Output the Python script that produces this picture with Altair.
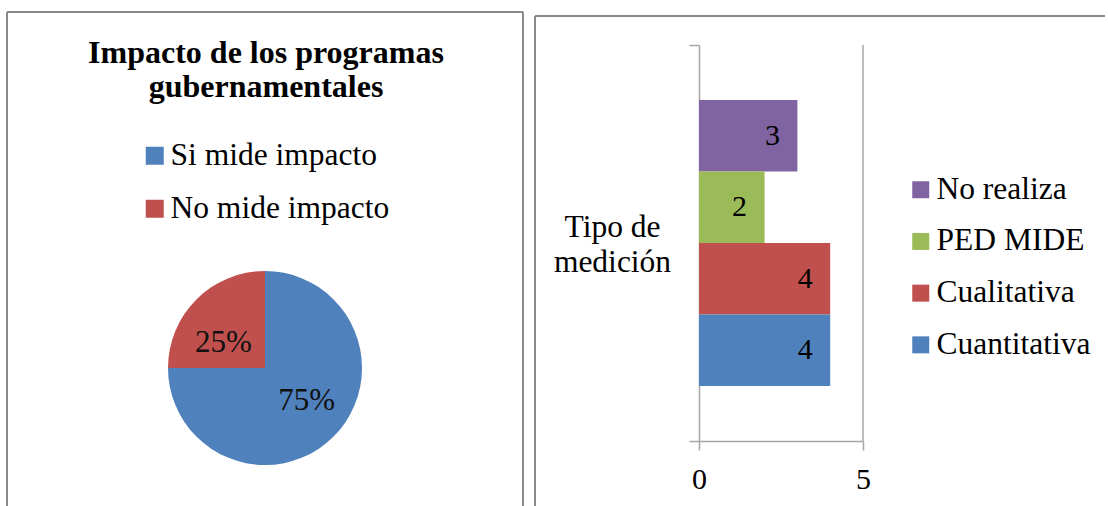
import altair as alt
import pandas as pd

FONT = "Liberation Serif"

# ---- data ----
title_lines = ["Impacto de los programas", "gubernamentales"]
pie_labels = ["Si mide impacto", "No mide impacto"]
pie_values = [75, 25]
pie_text = ["75%", "25%"]
pie_colors = ["#4F81BD", "#C0504D"]

bar_category = "Tipo de medición"
bar_series = ["No realiza", "PED MIDE", "Cualitativa", "Cuantitativa"]
bar_values = [3, 2, 4, 4]
bar_colors = ["#8064A2", "#9BBB59", "#C0504D", "#4F81BD"]
x_domain = [0, 5]
x_ticks = [0, 5]

BORDER = "#8a8a8a"
AXIS = "#a6a6a6"
LW, RW, H = 518, 574, 495
DY = -5  # vertical shift of the panel contents

pie_df = pd.DataFrame({
    "label": pie_labels,
    "value": pie_values,
    "text": pie_text,
    "order": list(range(len(pie_labels))),
})
bar_df = pd.DataFrame({
    "cat": [bar_category] * len(bar_series),
    "series": bar_series,
    "value": bar_values,
})
one = pd.DataFrame({"k": [0]})


def vrule(x, y1, y2):
    return alt.Chart(one).mark_rule(color=BORDER, strokeWidth=2).encode(
        x=alt.value(x), y=alt.value(y1), y2=alt.value(y2))


def hrule(y, x1, x2):
    return alt.Chart(one).mark_rule(color=BORDER, strokeWidth=2).encode(
        y=alt.value(y), x=alt.value(x1), x2=alt.value(x2))


# ---- left panel: pie ----
CX, CY = 259, 357 + DY
TWO_PI = 6.283185307
LABEL_ROT = -0.17  # labels sit slightly counter-clockwise of the slice middles

pie = alt.Chart(pie_df).mark_arc(outerRadius=97).encode(
    theta=alt.Theta("value:Q", stack=True),
    order=alt.Order("order:Q"),
    x=alt.value(CX), y=alt.value(CY),
    color=alt.Color(
        "label:N",
        scale=alt.Scale(domain=pie_labels, range=pie_colors),
        legend=alt.Legend(
            orient="none", legendX=133, legendY=129 + DY, title=None,
            symbolType="square", symbolSize=324, symbolStrokeWidth=0,
            symbolOpacity=1, labelFont=FONT, labelFontSize=31.5,
            labelColor="black", labelOffset=0, rowPadding=20, padding=0,
            labelLimit=400,
        ),
    ),
)
pie_txt = alt.Chart(pie_df).mark_text(
    radius=51, dy=4, font=FONT, fontSize=31, color="#111"
).encode(
    theta=alt.Theta("value:Q", stack=True,
                    scale=alt.Scale(range=[LABEL_ROT, TWO_PI + LABEL_ROT])),
    order=alt.Order("order:Q"),
    x=alt.value(CX), y=alt.value(CY), text="text:N",
)

title1 = alt.Chart(one).mark_text(
    font=FONT, fontSize=32, fontWeight="bold", align="center",
    baseline="alphabetic", color="black",
).encode(x=alt.value(260), y=alt.value(52 + DY), text=alt.value(title_lines[0]))
title2 = alt.Chart(one).mark_text(
    font=FONT, fontSize=32, fontWeight="bold", align="center",
    baseline="alphabetic", color="black",
).encode(x=alt.value(260), y=alt.value(86 + DY), text=alt.value(title_lines[1]))

left = alt.layer(
    pie, pie_txt, title1, title2,
    vrule(1, 1 + DY, H), hrule(1 + DY, 1, LW - 1), vrule(LW - 1, 1 + DY, H),
).resolve_scale(theta="independent").properties(width=LW, height=H)

# ---- right panel: bars ----
Y0, Y1 = 34 + DY, 430 + DY
xs = alt.Scale(domain=x_domain, range=[165, 329], nice=False, zero=True)
ys = alt.Scale(domain=[bar_category], range=[Y0, Y1], paddingInner=0, paddingOuter=0)
yo = alt.Scale(domain=bar_series, paddingInner=0, paddingOuter=0.77)

bar_base = alt.Chart(bar_df).encode(
    x=alt.X(
        "value:Q", scale=xs,
        axis=alt.Axis(
            values=x_ticks, format="d", offset=-(H - Y1), grid=False,
            domainColor=AXIS, domainWidth=1.5, tickColor=AXIS, tickWidth=1.5,
            tickSize=9, labelFont=FONT, labelFontSize=30, labelColor="black",
            labelPadding=14, labelFlush=False, title=None,
        ),
    ),
    y=alt.Y(
        "cat:N", scale=ys,
        axis=alt.Axis(
            offset=-165, tickBand="extent", tickSize=10, tickColor=AXIS,
            tickWidth=1.5, domainColor=AXIS, domainWidth=1.5,
            labelFont=FONT, labelFontSize=31.5, labelColor="black",
            labelAlign="center", labelBaseline="middle", labelPadding=77,
            labelOffset=-16,
            labelExpr="[slice(datum.label, 0, 7), slice(datum.label, 8)]",
            labelLineHeight=35, labelLimit=400, title=None,
        ),
    ),
    yOffset=alt.YOffset("series:N", scale=yo),
)
bars = bar_base.mark_bar().encode(
    color=alt.Color(
        "series:N",
        scale=alt.Scale(domain=bar_series, range=bar_colors),
        legend=alt.Legend(
            orient="none", legendX=371, legendY=163 + DY, title=None,
            symbolType="square", symbolSize=289, symbolStrokeWidth=0,
            symbolOpacity=1, labelFont=FONT, labelFontSize=31.5,
            labelColor="black", labelOffset=0, rowPadding=18.7, padding=0,
            labelLimit=400,
        ),
    )
)
bar_txt = bar_base.mark_text(
    dx=-25, font=FONT, fontSize=30, color="black", align="center", baseline="middle"
).encode(text="value:Q")

# vertical gridline at the last x tick, placed through the x scale
grid = alt.Chart(one).mark_rule(color=AXIS, strokeWidth=1.5).encode(
    x=alt.datum(x_ticks[-1], scale=xs), y=alt.value(Y0), y2=alt.value(Y1))

right = alt.layer(
    grid, bars, bar_txt,
    vrule(1, 5 + DY, H), hrule(5 + DY, 1, RW - 3),
).properties(width=RW, height=H)

chart = alt.hconcat(left, right, spacing=10).resolve_scale(
    color="independent"
).resolve_legend(color="independent").properties(
    padding={"left": 6, "top": 0, "right": 0, "bottom": 0},
    background="white",
).configure_view(stroke=None)

chart.save("out.html", embed_options={"renderer": "svg", "actions": False})
